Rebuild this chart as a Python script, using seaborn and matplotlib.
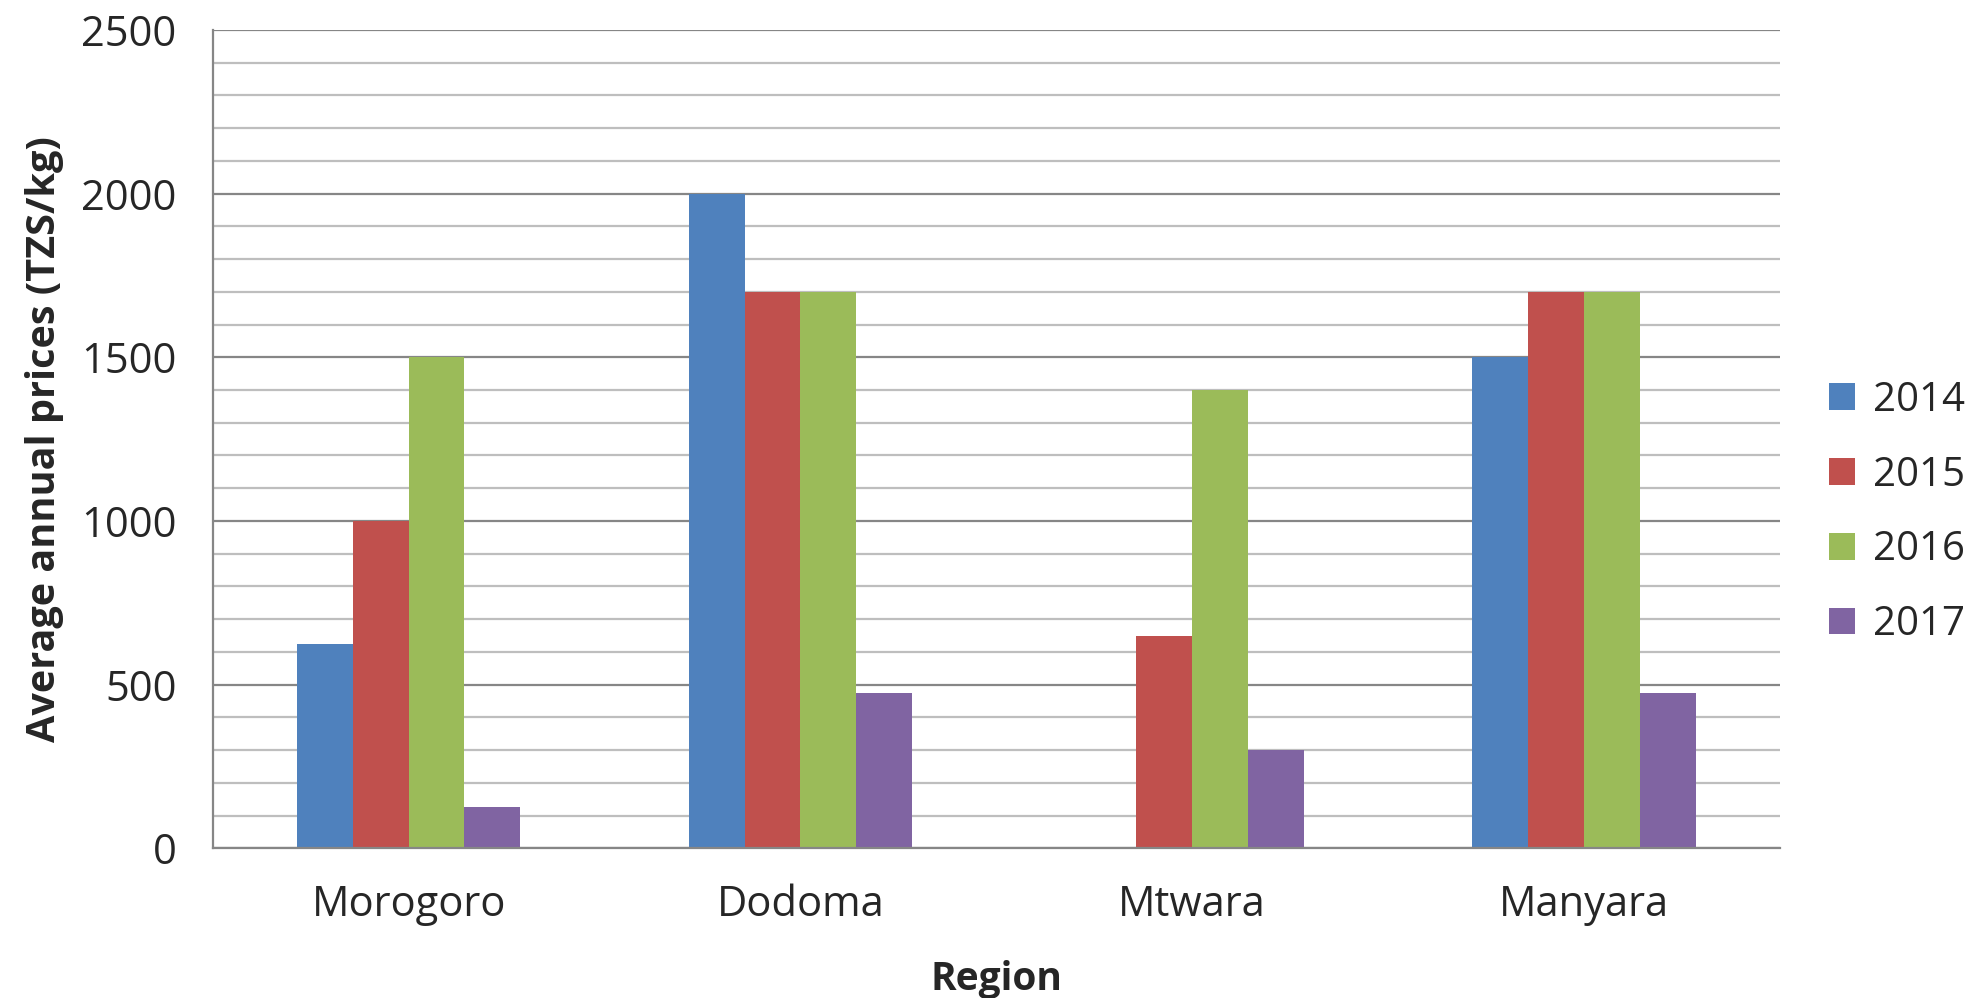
import pandas as pd
import seaborn as sns
import matplotlib.pyplot as plt
import numpy as np
from matplotlib.ticker import MultipleLocator

regions = ['Morogoro', 'Dodoma', 'Mtwara', 'Manyara']
years = ['2014', '2015', '2016', '2017']
prices_2014 = [625, 2000, np.nan, 1500]
prices_2015 = [1000, 1700, 650, 1700]
prices_2016 = [1500, 1700, 1400, 1700]
prices_2017 = [125, 475, 300, 475]
colors = ['#4F81BD', '#C0504D', '#9BBB59', '#8064A2']

df = pd.DataFrame({
    'Region': regions * 4,
    'Year': [y for y in years for _ in regions],
    'Price': prices_2014 + prices_2015 + prices_2016 + prices_2017,
})

sns.set_style('white')
plt.rcParams['font.family'] = ['Open Sans', 'DejaVu Sans']

fig = plt.figure(figsize=(19.69, 9.98), dpi=100)
ax = fig.add_axes([0.108, 0.150, 0.796, 0.820])
sns.barplot(data=df, x='Region', y='Price', hue='Year', palette=colors,
            width=0.57, saturation=1, linewidth=0, edgecolor='none',
            ax=ax, legend=True)

ax.set_ylim(0, 2500)
ax.set_xlim(-0.5, 3.5)
ax.yaxis.set_major_locator(MultipleLocator(500))
ax.yaxis.set_minor_locator(MultipleLocator(100))
ax.grid(which='minor', axis='y', color='#BEBEBE', linewidth=1.6)
ax.grid(which='major', axis='y', color='#868686', linewidth=1.6)
ax.set_axisbelow(True)
for s in ['top', 'right']:
    ax.spines[s].set_visible(False)
ax.spines['left'].set_color('#868686')
ax.spines['bottom'].set_color('#868686')
ax.spines['left'].set_linewidth(1.6)
ax.spines['bottom'].set_linewidth(1.6)
ax.tick_params(axis='y', which='major', length=11, width=1.6, color='#868686',
               labelsize=30, pad=15)
ax.tick_params(axis='y', which='minor', length=0)
ax.tick_params(axis='x', length=0, labelsize=30, pad=26)

ax.set_xlabel('Region', fontsize=28, fontweight='bold', labelpad=24)
ax.set_ylabel('Average annual prices (TZS/kg)', fontsize=28.5, fontweight='bold', labelpad=12)

ax.legend(loc='center left', bbox_to_anchor=(1.031, 0.41), frameon=False,
          fontsize=29, handlelength=0.65, handleheight=0.65, handletextpad=0.45,
          labelspacing=0.85, borderpad=0, borderaxespad=0)

fig.savefig('out.png', dpi=100)
